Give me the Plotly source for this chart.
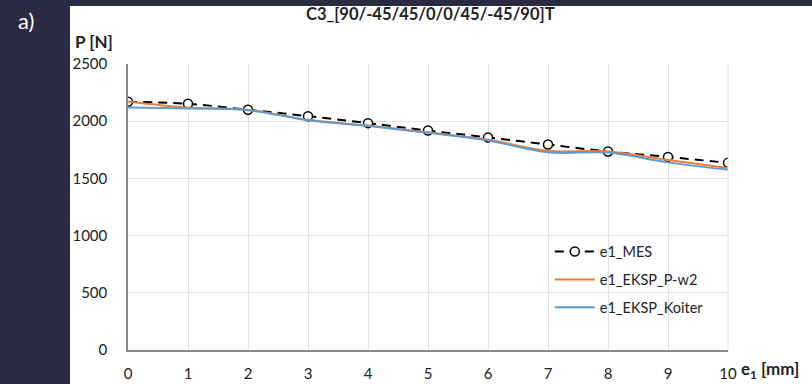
import plotly.graph_objects as go

x_vals = [0, 1, 2, 3, 4, 5, 6, 7, 8, 9, 10]
mes = [2170, 2152, 2100, 2044, 1983, 1918, 1858, 1796, 1735, 1688, 1636]
pw2 = [2172, 2118, 2100, 2012, 1962, 1903, 1838, 1742, 1735, 1660, 1590]
koiter = [2120, 2112, 2096, 2008, 1958, 1898, 1832, 1728, 1726, 1640, 1575]

FONT = "Lato"

fig = go.Figure()
fig.add_trace(go.Scatter(
    x=x_vals, y=mes, name="e1_MES", mode="lines+markers",
    line=dict(color="black", width=2, dash="9px,6px", shape="spline"),
    marker=dict(symbol="circle", size=9, color="white", line=dict(width=1.5, color="black")),
    legendgroup="a"))
fig.add_trace(go.Scatter(
    x=x_vals, y=pw2, name="e1_EKSP_P-w2", mode="lines",
    line=dict(color="#ED7D31", width=2, shape="spline"), legendgroup="b"))
fig.add_trace(go.Scatter(
    x=x_vals, y=koiter, name="e1_EKSP_Koiter", mode="lines",
    line=dict(color="#5B9BD5", width=2, shape="spline"), legendgroup="c"))

fig.update_layout(
    width=812, height=384,
    paper_bgcolor="#2a2a42",
    plot_bgcolor="white",
    margin=dict(l=128, r=84, t=64, b=34, autoexpand=False),
    font=dict(family=FONT, size=15, color="#222"),
    showlegend=True,
    legend=dict(x=0.703, y=0.40, xanchor="left", yanchor="top",
                bgcolor="rgba(0,0,0,0)", font=dict(size=14.5, color="#222"),
                tracegroupgap=6, itemwidth=40),
    shapes=[dict(type="rect", xref="paper", yref="paper",
                 x0=-58/600, x1=1.5, y0=-0.5, y1=1 + 58/286,
                 fillcolor="white", line=dict(width=0), layer="below")],
    annotations=[
        dict(text="<b>C3_[90/-45/45/0/0/45/-45/90]T</b>", xref="paper", yref="paper",
             x=(430 - 128) / 600, y=1 + (64 - 14) / 286, xanchor="center", yanchor="middle",
             showarrow=False, font=dict(size=16.5, color="#222")),
        dict(text="<b>P [N]</b>", xref="paper", yref="paper",
             x=-55 / 600, y=1 + (64 - 41) / 286, xanchor="left", yanchor="middle",
             showarrow=False, font=dict(size=17, color="#222")),
        dict(text="<b>e<sub>1</sub> [mm]</b>", xref="paper", yref="paper",
             x=1 + 11 / 600, y=-(370 - 350) / 286, xanchor="left", yanchor="middle",
             showarrow=False, font=dict(size=17, color="#222")),
        dict(text="a)", xref="paper", yref="paper",
             x=-(128 - 16) / 600, y=1 + (64 - 21) / 286, xanchor="left", yanchor="middle",
             showarrow=False, font=dict(size=22, color="white")),
    ],
)
fig.update_xaxes(range=[0, 10], tickvals=list(range(0, 11)), automargin=False,
                 showgrid=True, gridcolor="#e2e2e2", gridwidth=1,
                 showline=True, linecolor="#8a8a8a", linewidth=1.5,
                 zeroline=False, ticks="", ticklabelstandoff=9)
fig.update_yaxes(range=[0, 2500], tickvals=[0, 500, 1000, 1500, 2000, 2500], automargin=False,
                 showgrid=True, gridcolor="#e2e2e2", gridwidth=1,
                 showline=True, linecolor="#8a8a8a", linewidth=1.5,
                 zeroline=False, ticks="", ticklabelstandoff=16)
fig.add_shape(type="line", xref="paper", yref="paper", x0=1, x1=1, y0=0, y1=1,
              line=dict(color="#e2e2e2", width=1))

fig.write_html("out.html")
